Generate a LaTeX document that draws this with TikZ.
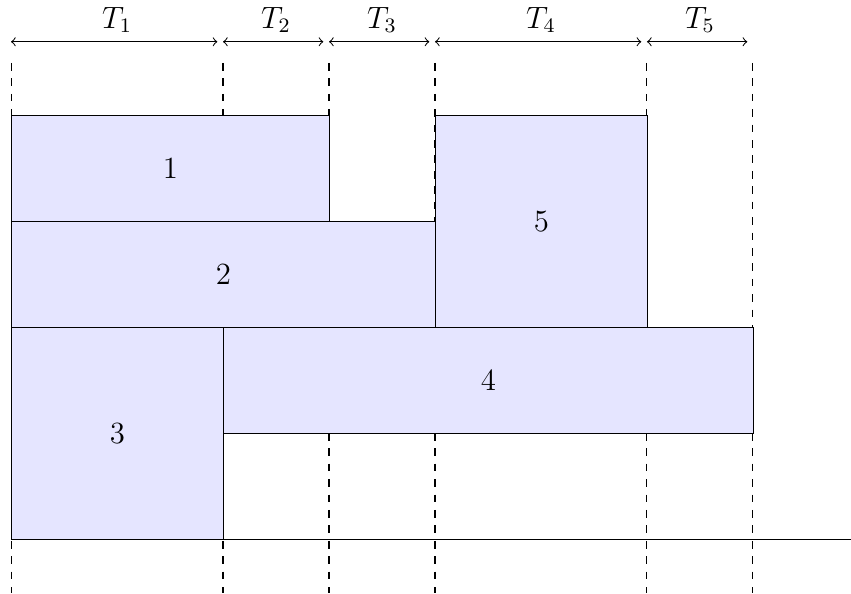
\documentclass[tikz,border=0pt]{standalone}
\begin{document}
\begin{tikzpicture}[x=1.45cm,y=1.45cm,
  every node/.style={font=\large},
  job/.style={draw=black, fill=blue!10, inner sep=0pt, anchor=south west},
  guide/.style={dashed},
  span/.style={<->, shorten >=2.2pt}]
\useasboundingbox (-0.104,-0.509) rectangle (7.925,5.094);
% guide lines
\foreach \x/\n in {0/a,2/b,3/c,4/d,6/e,7/f} {
  \coordinate (t\n) at (\x,4.5);
  \coordinate (b\n) at (\x,-0.5);
  \coordinate (h\n) at (\x,4.7);
  \draw[guide] (t\n) -- (b\n);
}
% intervals
\draw[span] (ha) -- node[above] {$T_1$} (hb);
\draw[span] (hb) -- node[above] {$T_2$} (hc);
\draw[span] (hc) -- node[above] {$T_3$} (hd);
\draw[span] (hd) -- node[above] {$T_4$} (he);
\draw[span] (he) -- node[above] {$T_5$} (hf);
% jobs
\node[job, minimum width=3*1.45cm, minimum height=1.45cm] (j1) at (0,3) {1};
\node[job, minimum width=4*1.45cm, minimum height=1.45cm] (j2) at (0,2) {2};
\node[job, minimum width=2*1.45cm, minimum height=2*1.45cm] (j3) at (0,0) {3};
\node[job, minimum width=5*1.45cm, minimum height=1.45cm] (j4) at (2,1) {4};
\node[job, minimum width=2*1.45cm, minimum height=2*1.45cm] (j5) at (4,2) {5};
% axis
\coordinate (o) at (0,0);
\coordinate (xe) at (7.925,0);
\draw (o) -- (xe);
\end{tikzpicture}
\end{document}
